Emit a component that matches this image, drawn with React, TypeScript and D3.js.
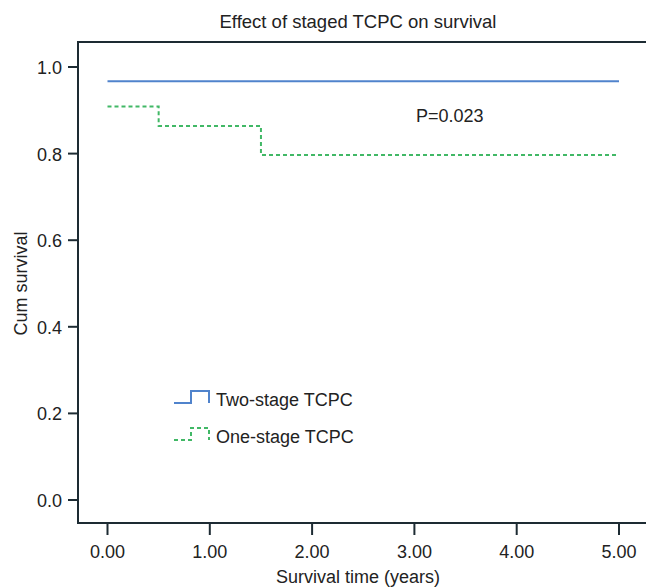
import React from "react";
import * as d3 from "d3";

// survival curves (time in years, cum survival)
const twoStageTimes = [0, 5];
const twoStageSurv = [0.967, 0.967];
const oneStageTimes = [0, 0.5, 1.5, 5];
const oneStageSurv = [0.909, 0.864, 0.797, 0.797];

const xTicks = [0, 1, 2, 3, 4, 5];
const yTicks = [0, 0.2, 0.4, 0.6, 0.8, 1.0];

const W = 646;
const H = 587;
const frameLeft = 78;
const frameTop = 42;
const frameBottom = 523;

const blue = "#5083cc";
const green = "#41b866";
const ink = "#1d2b33";
const font = "'Liberation Sans', Arial, sans-serif";
const fs = 18;

const App = () => {
  const x = d3.scaleLinear().domain([0, 5]).range([107.5, 619]);
  const y = d3.scaleLinear().domain([0, 1]).range([500, 67]);

  const stepLine = d3
    .line<[number, number]>()
    .x((d) => x(d[0]))
    .y((d) => y(d[1]))
    .curve(d3.curveStepAfter);

  const twoStage = twoStageTimes.map((t, i) => [t, twoStageSurv[i]] as [number, number]);
  const oneStage = oneStageTimes.map((t, i) => [t, oneStageSurv[i]] as [number, number]);

  // small step glyphs for the legend
  const legendIcon = (lx: number, ly: number) =>
    `M${lx},${ly} H${lx + 17} V${ly - 12} H${lx + 35} V${ly}`;

  return (
    <svg width={W} height={H} style={{ position: "absolute", left: 0, top: 0, background: "#fff" }}>
      <text x={358} y={28} textAnchor="middle" fontFamily={font} fontSize={18.5} fill="#222">
        Effect of staged TCPC on survival
      </text>

      {/* frame */}
      <path
        d={`M${W},${frameTop} H${frameLeft} V${frameBottom} H${W}`}
        fill="none"
        stroke={ink}
        strokeWidth={2}
      />

      {yTicks.map((t) => (
        <g key={"y" + t}>
          <line x1={frameLeft - 10} x2={frameLeft} y1={y(t)} y2={y(t)} stroke={ink} strokeWidth={2} />
          <text x={62} y={y(t) + 7} textAnchor="end" fontFamily={font} fontSize={fs} fill="#222">
            {t.toFixed(1)}
          </text>
        </g>
      ))}
      {xTicks.map((t) => (
        <g key={"x" + t}>
          <line x1={x(t)} x2={x(t)} y1={frameBottom} y2={frameBottom + 12} stroke={ink} strokeWidth={2} />
          <text x={x(t)} y={558} textAnchor="middle" fontFamily={font} fontSize={fs} fill="#222">
            {t.toFixed(2)}
          </text>
        </g>
      ))}

      <text
        transform={`translate(27,${y(0.5)}) rotate(-90)`}
        textAnchor="middle"
        fontFamily={font}
        fontSize={fs}
        fill="#222"
      >
        Cum survival
      </text>
      <text x={358} y={583} textAnchor="middle" fontFamily={font} fontSize={fs} fill="#222">
        Survival time (years)
      </text>

      <path d={stepLine(twoStage) ?? ""} fill="none" stroke={blue} strokeWidth={2} />
      <path d={stepLine(oneStage) ?? ""} fill="none" stroke={green} strokeWidth={2} strokeDasharray="4,3" />

      <text x={416} y={122} fontFamily={font} fontSize={fs} fill="#222">
        P=0.023
      </text>

      <path d={legendIcon(174, 403)} fill="none" stroke={blue} strokeWidth={2} />
      <text x={216} y={406} fontFamily={font} fontSize={fs} fill="#222">
        Two-stage TCPC
      </text>
      <path d={legendIcon(174, 440)} fill="none" stroke={green} strokeWidth={2} strokeDasharray="4,3" />
      <text x={216} y={443} fontFamily={font} fontSize={fs} fill="#222">
        One-stage TCPC
      </text>
    </svg>
  );
};

export default App;
